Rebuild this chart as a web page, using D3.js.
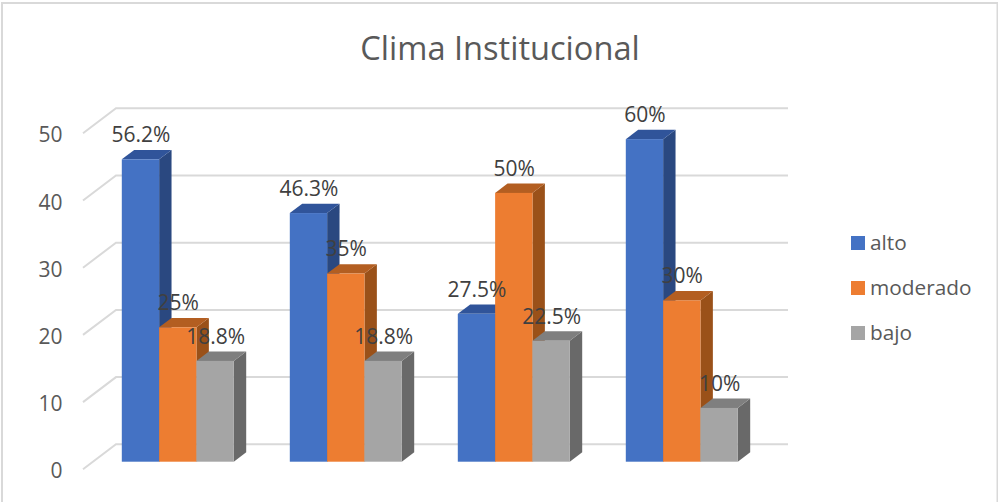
<!DOCTYPE html>
<html>
<head>
<meta charset="utf-8">
<script src="https://cdn.jsdelivr.net/npm/d3@7"></script>
<style>
html,body{margin:0;padding:0;background:#fff;}
svg{display:block;}
text{font-family:"Open Sans",sans-serif;}
</style>
</head>
<body>
<div id="chart"></div>
<script>
// Institutional climate survey: respondents per level, four groups, n = 80 each
const categories = ["G1", "G2", "G3", "G4"];
const seriesNames = ["alto", "moderado", "bajo"];
const altoValues = [45, 37, 22, 48];
const moderadoValues = [20, 28, 40, 24];
const bajoValues = [15, 15, 18, 8];
const altoLabels = ["56.2%", "46.3%", "27.5%", "60%"];
const moderadoLabels = ["25%", "35%", "50%", "30%"];
const bajoLabels = ["18.8%", "18.8%", "22.5%", "10%"];
const yTicks = [0, 10, 20, 30, 40, 50];
const frontColors = ["#4472C4", "#ED7D31", "#A5A5A5"];
const topColors = ["#30549A", "#B35E21", "#7F7F7F"];
const sideColors = ["#2A4880", "#9A5119", "#696969"];

const W = 998, H = 502;
const depth = {x: 12.4, y: 9.4};      // bar extrusion
const wall = {x: 33, y: 25, lift: 17.4};  // chart wall offset behind the bars

const svg = d3.select("#chart").append("svg").attr("width", W).attr("height", H);

// Chart frame: open along the bottom edge
svg.append("path").attr("d", `M2,${H}L2,3L${W - 0.5},3L${W - 0.5},${H}`)
  .attr("fill", "none").attr("stroke", "#D9D9D9").attr("stroke-width", 2);

const x0 = d3.scaleBand().domain(categories).range([93.8, 765.8]).paddingInner(1 / 3).paddingOuter(1 / 6);
const x1 = d3.scaleBand().domain(seriesNames).range([0, x0.bandwidth()]);
const y = d3.scaleLinear().domain([0, 50]).range([461.7, 125.7]);

svg.append("text").attr("x", 500).attr("y", 59.5).attr("text-anchor", "middle")
  .attr("font-size", 32.6).attr("fill", "#595959").text("Clima Institucional");

// Back wall gridlines with their floor-side returns
const grid = svg.append("g").attr("stroke", "#D9D9D9").attr("stroke-width", 2).attr("fill", "none");
yTicks.forEach(t => {
  const yb = y(t) - wall.lift;
  grid.append("path").attr("d", `M83,${yb + wall.y}L116,${yb}L788,${yb}`);
});

// Value axis labels
svg.append("g").selectAll("text").data(yTicks).join("text")
  .attr("x", 62.5).attr("y", d => y(d) - wall.lift + wall.y + 9)
  .attr("text-anchor", "end").attr("font-size", 21).attr("fill", "#595959").text(d => d);

// Extruded bars, drawn back to front within each group
const seriesValues = [altoValues, moderadoValues, bajoValues];
const seriesLabels = [altoLabels, moderadoLabels, bajoLabels];
const bars = svg.append("g");
categories.forEach((c, ci) => {
  seriesNames.forEach((s, si) => {
    const v = seriesValues[si][ci];
    const l = x0(c) + x1(s), r = l + x1.bandwidth(), t = y(v), b = y(0);
    const g = bars.append("g");
    g.append("path").attr("fill", sideColors[si])
      .attr("d", `M${r},${t}L${r + depth.x},${t - depth.y}L${r + depth.x},${b - depth.y}L${r},${b}Z`);
    g.append("path").attr("fill", topColors[si])
      .attr("d", `M${l},${t}L${l + depth.x},${t - depth.y}L${r + depth.x},${t - depth.y}L${r},${t}Z`);
    g.append("rect").attr("x", l).attr("y", t).attr("width", x1.bandwidth()).attr("height", b - t)
      .attr("fill", frontColors[si]);
  });
});

// Data labels sit above everything
const labels = svg.append("g");
categories.forEach((c, ci) => {
  seriesNames.forEach((s, si) => {
    labels.append("text")
      .attr("x", x0(c) + x1(s) + x1.bandwidth() / 2 + 0.5)
      .attr("y", y(seriesValues[si][ci]) - 17.2)
      .attr("text-anchor", "middle").attr("font-size", 21).attr("fill", "#404040")
      .text(seriesLabels[si][ci]);
  });
});

// Legend
const legend = svg.append("g").selectAll("g").data(seriesNames).join("g")
  .attr("transform", (d, i) => `translate(851,${236 + i * 45})`);
legend.append("rect").attr("width", 14).attr("height", 14).attr("fill", (d, i) => frontColors[i]);
legend.append("text").attr("x", 19).attr("y", 14).attr("font-size", 20.8).attr("fill", "#595959").text(d => d);
</script>
</body>
</html>
